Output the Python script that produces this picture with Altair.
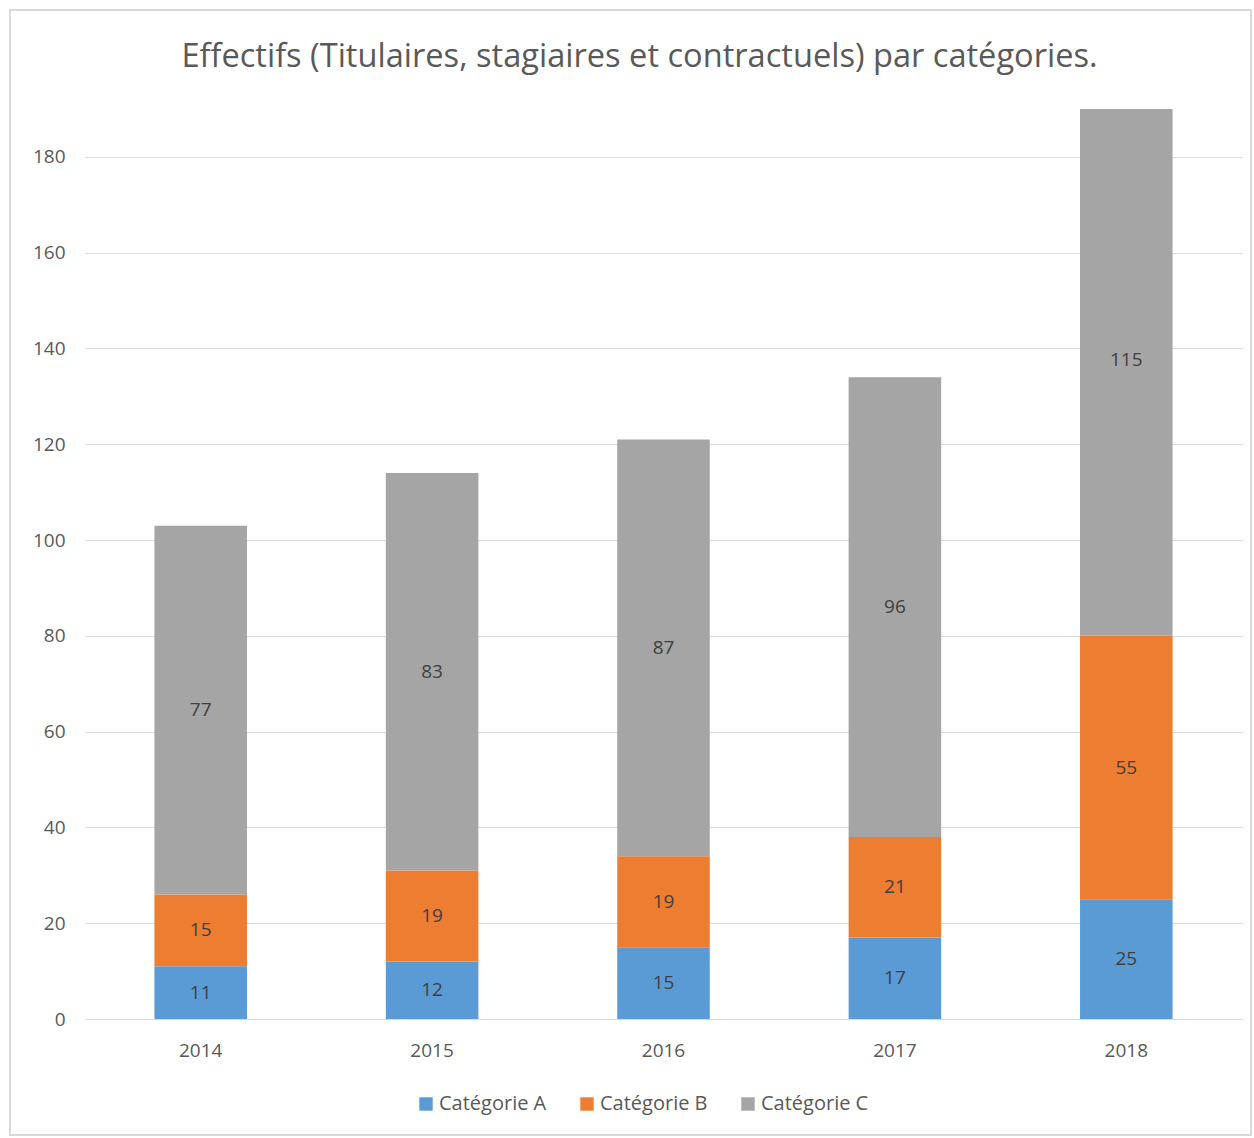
import altair as alt
import pandas as pd

years = ["2014", "2015", "2016", "2017", "2018"]
cat_a = [11, 12, 15, 17, 25]
cat_b = [15, 19, 19, 21, 55]
cat_c = [77, 83, 87, 96, 115]
series = ["Catégorie A", "Catégorie B", "Catégorie C"]
colors = ["#5b9bd5", "#ed7d31", "#a5a5a5"]

rows = []
for i, y in enumerate(years):
    start = 0
    for k, (name, vals) in enumerate(zip(series, [cat_a, cat_b, cat_c])):
        v = vals[i]
        rows.append({"year": y, "serie": name, "value": v, "order": k,
                     "y0": start, "y1": start + v, "mid": start + v / 2})
        start += v
df = pd.DataFrame(rows)

FONT = "Open Sans"
W, H = 1157, 910

xenc = alt.X("year:N", title=None,
             scale=alt.Scale(paddingInner=0.6, paddingOuter=0.3),
             axis=alt.Axis(labelAngle=0, ticks=False, domain=False, labelPadding=22,
                           labelFontSize=19, labelColor="#595959", labelFont=FONT))
yscale = alt.Scale(domain=[0, 190], nice=False)

bars = alt.Chart(df).mark_bar(clip=True).encode(
    x=xenc,
    y=alt.Y("y0:Q", scale=yscale, title=None,
            axis=alt.Axis(values=list(range(0, 181, 20)), ticks=False, domain=False,
                          labelPadding=20, labelFontSize=19, labelColor="#595959",
                          labelFont=FONT, gridColor="#d9d9d9", gridWidth=1)),
    y2="y1:Q",
    color=alt.Color("serie:N", scale=alt.Scale(domain=series, range=colors),
                    legend=alt.Legend(title=None, orient="none", direction="horizontal",
                                      legendX=331, legendY=985, symbolType="square",
                                      symbolSize=180, symbolStrokeWidth=0,
                                      labelFontSize=20, labelColor="#595959",
                                      labelFont=FONT, columnPadding=30,
                                      symbolOffset=0, labelOffset=3)),
)

labels = alt.Chart(df).mark_text(fontSize=19, color="#404040", font=FONT).encode(
    x="year:N",
    y=alt.Y("mid:Q", scale=yscale),
    text="value:Q",
)

frame = alt.Chart(pd.DataFrame({"a": [0]})).mark_rect(
    fill=None, stroke="#d9d9d9", strokeWidth=2).encode(
    x=alt.value(-75), x2=alt.value(1166), y=alt.value(-99), y2=alt.value(1026))

chart = alt.layer(frame, bars, labels).properties(
    width=W, height=H,
    autosize=alt.AutoSizeParams(type="none"),
    padding={"left": 85, "top": 109, "right": 12, "bottom": 119},
    title=alt.TitleParams("Effectifs (Titulaires, stagiaires et contractuels) par catégories.",
                          fontSize=32.6, font=FONT, fontWeight="normal", color="#595959",
                          anchor="middle", dx=-24, offset=-65),
).configure_view(stroke=None)

chart.save("out.html", embed_options={"renderer": "svg", "actions": False})
